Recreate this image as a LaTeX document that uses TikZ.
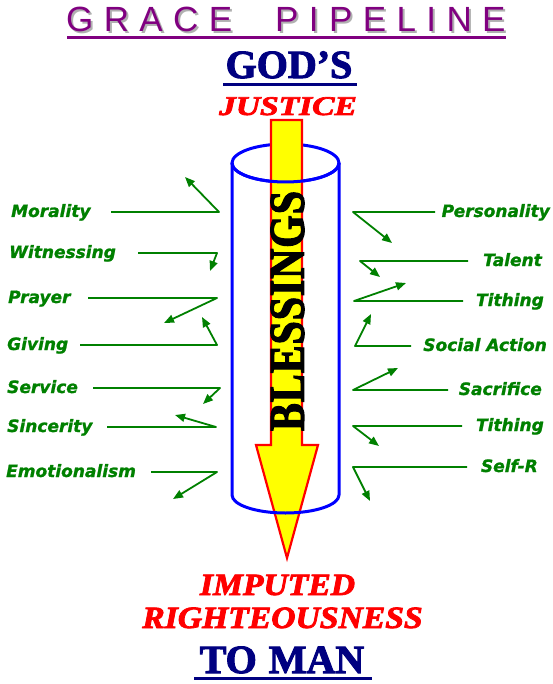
\documentclass[tikz,border=0pt]{standalone}
\usepackage{fontspec}
\setmainfont{Liberation Serif}
\newfontfamily\heavyserif{Liberation Serif}[BoldFeatures={FakeBold=2.5},BoldItalicFeatures={FakeBold=2.5}]
\newfontfamily\titlefont{Liberation Sans}
\newfontfamily\labfont{DejaVu Sans}[BoldItalicFeatures={FakeBold=1.2}]
\usetikzlibrary{arrows.meta}
\definecolor{gpurple}{HTML}{800080}
\definecolor{gnavy}{HTML}{000080}
\definecolor{ggreen}{HTML}{008000}
\definecolor{gshadow}{HTML}{B0B0B0}
\definecolor{gred}{HTML}{FF0000}
\definecolor{gyellow}{HTML}{FFFF00}
\definecolor{gblue}{HTML}{0000FF}
\newcommand\myGrace{G\kern10.4pt R\kern10.4pt A\kern10.4pt C\kern10.4pt E}
\newcommand\myPipe{P\kern10.4pt I\kern10.4pt P\kern10.4pt E\kern10.4pt L\kern10.4pt I\kern10.4pt N\kern10.4pt E}
\newcommand\myShadow[1]{\rlap{\kern2pt\raisebox{-2pt}{\color{gshadow}#1}}{\color{gpurple}#1}}
\begin{document}
\begin{tikzpicture}[x=1pt,y=-1pt,
  titletxt/.style={anchor=base west,inner sep=0,font=\titlefont\fontsize{35}{35}\selectfont},
  navytxt/.style={anchor=base,inner sep=0,text=gnavy,font=\heavyserif\fontsize{40}{40}\selectfont\bfseries},
  redtxt/.style={anchor=base,inner sep=0,text=gred,font=\heavyserif\bfseries\itshape},
  lab/.style={inner sep=0,text=ggreen,font=\labfont\bfseries\itshape\fontsize{17}{17}\selectfont},
  gline/.style={draw=ggreen,line width=1.8pt,line join=round},
  garrow/.style={gline,-{Triangle[length=10pt,width=8pt]}},
  pipe/.style={draw=gblue,line width=3pt}]
\useasboundingbox (0,0) rectangle (553,684);
% title
\node[titletxt] (t1) at (66,32) {\myShadow{\myGrace}};
\node[titletxt] (t2) at (275,32) {\myShadow{\myPipe}};
\draw[gpurple,line width=2.5pt] (67,37.3) -- (506,37.3);
% GOD'S JUSTICE
\node[navytxt] (gods) at (289,78) {GOD’S};
\draw[gnavy,line width=3pt] (223,85) -- (357,85);
\node[redtxt] (justice) at (288,115) {\scalebox{1.24}[1]{\fontsize{27}{27}\selectfont JUSTICE}};
% cylinder back
\draw[pipe] (285.5,163) ellipse [x radius=53.5,y radius=19];
% arrow
\draw[fill=gyellow,draw=gred,line width=2.2pt,line join=miter]
  (271,120) -- (302,120) -- (302,445) -- (318,445) -- (287,558) -- (256,445) -- (271,445) -- cycle;
\node[rotate=90,inner sep=0] (bless) at (287.5,311)
  {\scalebox{0.84}[1]{\heavyserif\fontsize{50}{50}\selectfont\bfseries B\kern1pt L\kern1pt E\kern1pt S\kern1pt S\kern1pt I\kern1pt N\kern1pt G\kern1pt S}};
% cylinder front
\draw[pipe] (232,163) arc[start angle=180,end angle=0,x radius=53.5,y radius=19];
\draw[pipe] (232,163) -- (232,495) arc[start angle=180,end angle=0,x radius=53.5,y radius=18] -- (339,163);
% left labels
\foreach \n/\t/\xl/\y/\xs/\xe/\tx/\ty in {
  1/Morality/11/212/111/219/185/177,
  2/Witnessing/9/253/138/217/210/271,
  3/Prayer/8/298/88/217/164/323,
  4/Giving/7/345/80/217/202/317,
  5/Service/7/388/93/220/203/404,
  6/Sincerity/7/427/107/216/175/415,
  7/Emotionalism/6/472/151/217/173/499}{
  \node[lab,anchor=base west] (L\n) at (\xl,\y+5) {\t};
  \coordinate (Ls\n) at (\xs,\y);
  \coordinate (Le\n) at (\xe,\y);
  \coordinate (Lt\n) at (\tx,\ty);
  \draw[garrow] (Ls\n) -- (Le\n) -- (Lt\n);
}
% right labels
\foreach \n/\t/\xr/\y/\xs/\xe/\tx/\ty in {
  1/Personality/550/212/435/353/392/243,
  2/Talent/542/261/468/360/380/277,
  3/Tithing/544/301/463/354/406/283,
  4/Social Action/547/346/411/355/371/314,
  5/Sacrifice/542/390/448/353/398/368,
  6/Tithing/544/426/462/353/379/446,
  7/Self-R/538/467/467/353/370/501}{
  \node[lab,anchor=base east] (R\n) at (\xr,\y+5) {\t};
  \coordinate (Rs\n) at (\xs,\y);
  \coordinate (Re\n) at (\xe,\y);
  \coordinate (Rt\n) at (\tx,\ty);
  \draw[garrow] (Rs\n) -- (Re\n) -- (Rt\n);
}
% bottom texts
\node[redtxt] (imp) at (277.5,595) {\scalebox{1.085}[1]{\fontsize{31}{31}\selectfont IMPUTED}};
\node[redtxt] (right) at (282.5,628) {\scalebox{1.085}[1]{\fontsize{31}{31}\selectfont RIGHTEOUSNESS}};
\node[navytxt] (toman) at (282,673) {TO\kern12pt MAN};
\draw[gnavy,line width=3pt] (194,678) -- (372,678);
\end{tikzpicture}
\end{document}
